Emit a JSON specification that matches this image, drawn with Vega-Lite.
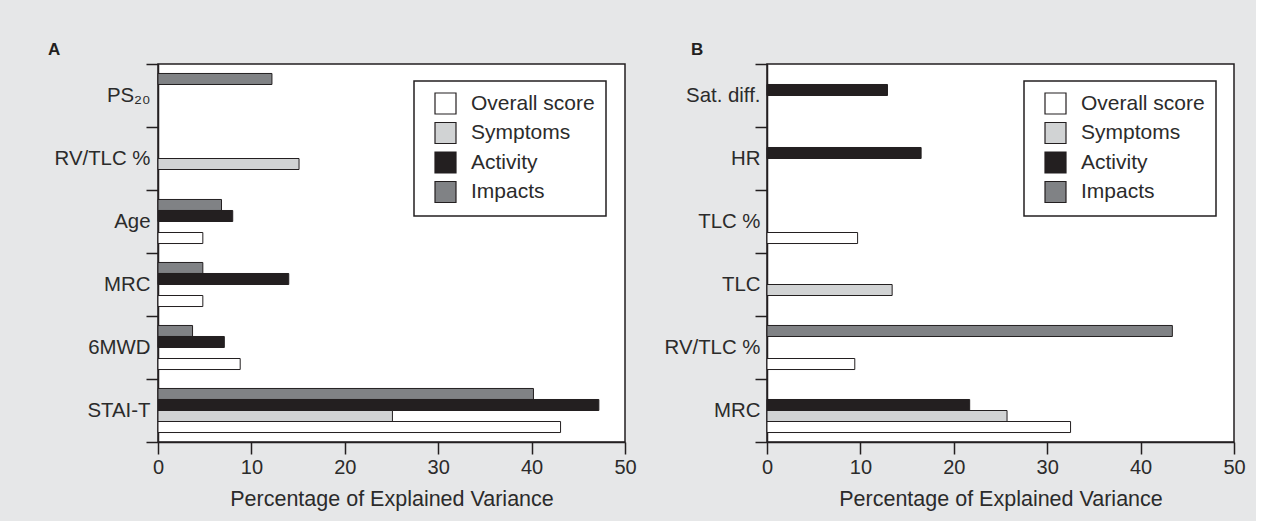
{
  "$schema": "https://vega.github.io/schema/vega-lite/v6.json",
  "autosize": {"type": "pad"},
  "padding": {"left": 47, "top": 40, "right": 10, "bottom": 10},
  "background": "#e6e7e8",
  "bounds": "flush",
  "spacing": 142,
  "data": {
    "values": [
      {"panel": "A", "variable": "PS₂₀", "subscale": "Impacts", "value": 12.2},
      {"panel": "A", "variable": "RV/TLC %", "subscale": "Symptoms", "value": 15.1},
      {"panel": "A", "variable": "Age", "subscale": "Impacts", "value": 6.8},
      {"panel": "A", "variable": "Age", "subscale": "Activity", "value": 8.0},
      {"panel": "A", "variable": "Age", "subscale": "Overall score", "value": 4.8},
      {"panel": "A", "variable": "MRC", "subscale": "Impacts", "value": 4.8},
      {"panel": "A", "variable": "MRC", "subscale": "Activity", "value": 14.0},
      {"panel": "A", "variable": "MRC", "subscale": "Overall score", "value": 4.8},
      {"panel": "A", "variable": "6MWD", "subscale": "Impacts", "value": 3.7},
      {"panel": "A", "variable": "6MWD", "subscale": "Activity", "value": 7.1},
      {"panel": "A", "variable": "6MWD", "subscale": "Overall score", "value": 8.8},
      {"panel": "A", "variable": "STAI-T", "subscale": "Impacts", "value": 40.2},
      {"panel": "A", "variable": "STAI-T", "subscale": "Activity", "value": 47.2},
      {"panel": "A", "variable": "STAI-T", "subscale": "Symptoms", "value": 25.1},
      {"panel": "A", "variable": "STAI-T", "subscale": "Overall score", "value": 43.1},
      {"panel": "B", "variable": "Sat. diff.", "subscale": "Activity", "value": 12.9},
      {"panel": "B", "variable": "HR", "subscale": "Activity", "value": 16.5},
      {"panel": "B", "variable": "TLC %", "subscale": "Overall score", "value": 9.7},
      {"panel": "B", "variable": "TLC", "subscale": "Symptoms", "value": 13.4},
      {"panel": "B", "variable": "RV/TLC %", "subscale": "Impacts", "value": 43.4},
      {"panel": "B", "variable": "RV/TLC %", "subscale": "Overall score", "value": 9.4},
      {"panel": "B", "variable": "MRC", "subscale": "Activity", "value": 21.7},
      {"panel": "B", "variable": "MRC", "subscale": "Symptoms", "value": 25.7},
      {"panel": "B", "variable": "MRC", "subscale": "Overall score", "value": 32.5}
    ]
  },
  "resolve": {"scale": {"color": "independent"}, "legend": {"color": "independent"}},
  "hconcat": [
    {
      "width": 467,
      "height": 378,
      "title": {"text": "A", "anchor": "start", "frame": "group", "dx": -110, "offset": -5},
      "transform": [{"filter": "datum.panel === 'A'"}],
      "mark": {"type": "bar", "stroke": "#231f20", "strokeWidth": 1},
      "encoding": {
        "y": {
          "field": "variable", "type": "nominal",
          "sort": ["PS₂₀", "RV/TLC %", "Age", "MRC", "6MWD", "STAI-T"],
          "scale": {"paddingInner": 0, "paddingOuter": 0},
          "axis": {"title": null, "tickBand": "extent", "labelPadding": -4}
        },
        "yOffset": {
          "field": "subscale", "type": "nominal",
          "scale": {"domain": ["Impacts", "Activity", "Symptoms", "Overall score"], "paddingInner": 0, "paddingOuter": 0.86}
        },
        "x": {
          "field": "value", "type": "quantitative",
          "scale": {"domain": [0, 50], "nice": false},
          "axis": {"title": "Percentage of Explained Variance", "values": [0, 10, 20, 30, 40, 50]}
        },
        "color": {
          "field": "subscale", "type": "nominal",
          "scale": {"domain": ["Overall score", "Symptoms", "Activity", "Impacts"], "range": ["#ffffff", "#d1d3d4", "#231f20", "#808285"]},
          "legend": {"title": null, "orient": "none", "legendX": 256, "legendY": 17}
        }
      }
    },
    {
      "width": 467,
      "height": 378,
      "title": {"text": "B", "anchor": "start", "frame": "group", "dx": -76, "offset": -5},
      "transform": [{"filter": "datum.panel === 'B'"}],
      "mark": {"type": "bar", "stroke": "#231f20", "strokeWidth": 1},
      "encoding": {
        "y": {
          "field": "variable", "type": "nominal",
          "sort": ["Sat. diff.", "HR", "TLC %", "TLC", "RV/TLC %", "MRC"],
          "scale": {"paddingInner": 0, "paddingOuter": 0},
          "axis": {"title": null, "tickBand": "extent", "labelPadding": -5}
        },
        "yOffset": {
          "field": "subscale", "type": "nominal",
          "scale": {"domain": ["Impacts", "Activity", "Symptoms", "Overall score"], "paddingInner": 0, "paddingOuter": 0.86}
        },
        "x": {
          "field": "value", "type": "quantitative",
          "scale": {"domain": [0, 50], "nice": false},
          "axis": {"title": "Percentage of Explained Variance", "values": [0, 10, 20, 30, 40, 50]}
        },
        "color": {
          "field": "subscale", "type": "nominal",
          "scale": {"domain": ["Overall score", "Symptoms", "Activity", "Impacts"], "range": ["#ffffff", "#d1d3d4", "#231f20", "#808285"]},
          "legend": {"title": null, "orient": "none", "legendX": 257, "legendY": 17}
        }
      }
    }
  ],
  "config": {
    "font": "Liberation Sans",
    "view": {"stroke": "#231f20", "strokeWidth": 1.5, "fill": "#ffffff"},
    "title": {"fontSize": 17, "fontWeight": "bold", "color": "#231f20", "font": "Liberation Sans"},
    "axis": {
      "domainColor": "#231f20", "domainWidth": 1.5,
      "tickColor": "#231f20", "tickWidth": 1.5, "tickSize": 12,
      "labelFont": "Liberation Sans", "labelFontSize": 20, "labelColor": "#2b2b2b",
      "titleFont": "Liberation Sans", "titleFontSize": 21.5, "titleFontWeight": "normal", "titleColor": "#2b2b2b",
      "grid": false, "labelFlush": false, "labelOverlap": false
    },
    "axisX": {"labelPadding": 3, "titlePadding": 11},
    "axisY": {"labelFontSize": 20.4},
    "legend": {
      "strokeColor": "#231f20", "strokeWidth": 1.5, "fillColor": "#ffffff",
      "padding": 11, "symbolOffset": 9,
      "symbolType": "square", "symbolSize": 441,
      "symbolStrokeColor": "#231f20", "symbolStrokeWidth": 1.2, "symbolOpacity": 1,
      "labelFont": "Liberation Sans", "labelFontSize": 21, "labelColor": "#2b2b2b",
      "labelOffset": 14, "rowPadding": 2.5
    }
  }
}
